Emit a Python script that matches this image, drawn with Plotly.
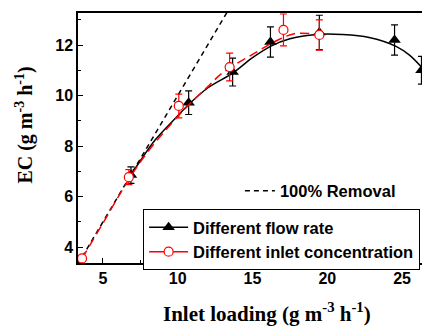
import plotly.graph_objects as go

# Data
flow_x = [6.87, 10.73, 13.67, 16.2, 19.47, 24.5, 26.3]
flow_y = [6.85, 9.72, 10.93, 12.12, 12.5, 12.2, 11.0]
flow_err = [0.33, 0.47, 0.55, 0.6, 0.68, 0.6, 0.55]

conc_x = [3.6, 6.73, 10.07, 13.47, 17.07, 19.47]
conc_y = [3.55, 6.77, 9.59, 11.13, 12.6, 12.4]
conc_err = [0.1, 0.3, 0.47, 0.55, 0.63, 0.6]

flow_fit_x = [6.8, 7.5, 8.5, 10.0, 10.7, 12.0, 13.7, 15.0, 16.2, 17.5, 19.5, 21.0, 22.8, 24.6, 25.5, 26.6]
flow_fit_y = [6.8, 7.42, 8.25, 9.2, 9.63, 10.3, 10.9, 11.5, 11.95, 12.25, 12.43, 12.42, 12.3, 11.95, 11.6, 10.93]

conc_fit_x = [3.6, 5.0, 6.8, 8.1, 10.2, 12.0, 13.0, 15.2, 16.7, 17.8, 18.9, 19.47]
conc_fit_y = [3.55, 4.95, 6.75, 7.85, 9.3, 10.35, 10.9, 11.7, 12.2, 12.45, 12.45, 12.4]

removal_x = [3.3, 14.0]
removal_y = [3.3, 14.0]

x_range = [3.33, 26.87]
y_range = [3.37, 13.27]

fig = go.Figure()

fig.add_trace(go.Scatter(x=removal_x, y=removal_y, mode="lines",
                         line=dict(color="black", width=1.5, dash="5px,4px"),
                         name="100% Removal", legend="legend2"))

fig.add_trace(go.Scatter(x=flow_fit_x, y=flow_fit_y, mode="lines", line_shape="spline",
                         line=dict(color="black", width=1.5), showlegend=False))
fig.add_trace(go.Scatter(x=flow_x, y=flow_y, mode="markers",
                         marker=dict(symbol="triangle-up", size=11, color="black"),
                         error_y=dict(type="data", array=flow_err, color="black", thickness=1.2, width=3.5),
                         showlegend=False))

fig.add_trace(go.Scatter(x=conc_fit_x, y=conc_fit_y, mode="lines", line_shape="spline",
                         line=dict(color="red", width=1.5, dash="9px,5px"), showlegend=False))
fig.add_trace(go.Scatter(x=conc_x, y=conc_y, mode="markers",
                         marker=dict(symbol="circle", size=9, color="white", line=dict(color="red", width=1.2)),
                         error_y=dict(type="data", array=conc_err, color="red", thickness=1.2, width=3.5),
                         showlegend=False))

# legend-only entries
fig.add_trace(go.Scatter(x=[None], y=[None], mode="lines+markers", name="Different flow rate",
                         line=dict(color="black", width=1.5),
                         marker=dict(symbol="triangle-up", size=11, color="black"), legend="legend"))
fig.add_trace(go.Scatter(x=[None], y=[None], mode="lines+markers", name="Different inlet concentration",
                         line=dict(color="red", width=1.5),
                         marker=dict(symbol="circle", size=9, color="white", line=dict(color="red", width=1.2)),
                         legend="legend"))

tickfont = dict(family="Liberation Sans, Arial", size=16, color="black", weight="bold")
legfont = dict(family="Liberation Sans, Arial", size=16.5, color="black", weight="bold")

# page body has an 8px margin, so the figure is 8px smaller than the window
fig.update_layout(
    width=422, height=318,
    margin=dict(l=70, r=0, t=5, b=63),
    plot_bgcolor="white", paper_bgcolor="white",
    showlegend=True,
    legend=dict(x=0.185, y=0.216, xanchor="left", yanchor="top",
                bordercolor="black", borderwidth=1, bgcolor="white",
                font=legfont, tracegroupgap=0, itemwidth=39),
    legend2=dict(x=0.46, y=0.288, xanchor="left", yanchor="middle",
                 borderwidth=0, bgcolor="rgba(0,0,0,0)", font=legfont),
    xaxis=dict(range=x_range, showgrid=False, zeroline=False,
               showline=True, linecolor="black", linewidth=1.5, mirror=True,
               ticks="inside", ticklen=5, tickwidth=1.2, tickcolor="black",
               tickvals=[5, 10, 15, 20, 25], tickfont=tickfont,
               minor=dict(tickvals=[7.5, 12.5, 17.5, 22.5], ticks="inside", ticklen=3, tickcolor="black")),
    yaxis=dict(range=y_range, showgrid=False, zeroline=False,
               showline=True, linecolor="black", linewidth=1.5,
               ticks="inside", ticklen=5, tickwidth=1.2, tickcolor="black",
               tickvals=[4, 6, 8, 10, 12], tickfont=tickfont,
               minor=dict(tickvals=[5, 7, 9, 11, 13], ticks="inside", ticklen=3, tickcolor="black")),
    annotations=[
        dict(text="<b>Inlet loading (g m<sup>-3</sup> h<sup>-1</sup>)</b>", xref="paper", yref="paper",
             x=0.537, y=-0.196, xanchor="center", yanchor="middle", showarrow=False,
             font=dict(family="Liberation Serif, Times New Roman", size=21, color="black")),
        dict(text="<b>EC (g m<sup>-3</sup> h<sup>-1</sup>)</b>", xref="paper", yref="paper",
             x=-0.151, y=0.553, xanchor="center", yanchor="middle", showarrow=False, textangle=-90,
             font=dict(family="Liberation Serif, Times New Roman", size=20, color="black")),
    ],
)

fig.write_html("out.html")
